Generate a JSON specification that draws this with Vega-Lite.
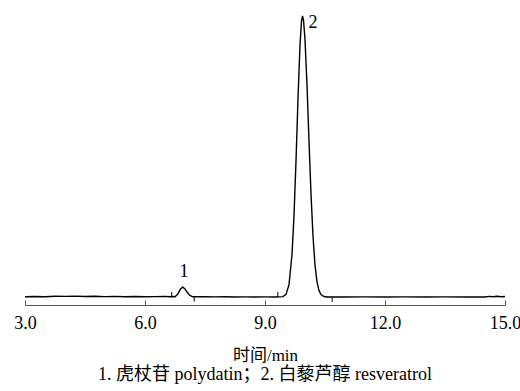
{
  "$schema": "https://vega.github.io/schema/vega-lite/v6.json",
  "width": 480,
  "height": 295,
  "autosize": {"type": "none"},
  "padding": {"left": 25, "top": 10, "right": 15, "bottom": 86},
  "background": "white",
  "config": {"view": {"stroke": null}, "font": "Liberation Serif, Noto Sans CJK SC"},
  "title": {
    "text": "1. 虎杖苷 polydatin；2. 白藜芦醇 resveratrol",
    "orient": "bottom",
    "anchor": "middle",
    "fontSize": 18,
    "fontWeight": "normal",
    "font": "Liberation Serif, Noto Sans CJK SC",
    "color": "black",
    "offset": 3
  },
  "datasets": {
    "trace": [
      {"t": 3.0, "h": 0.3}, {"t": 3.25, "h": 0.5}, {"t": 3.5, "h": 0.2}, {"t": 3.75, "h": 0.8},
      {"t": 4.0, "h": 0.6}, {"t": 4.25, "h": 0.9}, {"t": 4.5, "h": 0.5}, {"t": 4.75, "h": 0.7},
      {"t": 5.0, "h": 0.4}, {"t": 5.25, "h": 0.6}, {"t": 5.5, "h": 0.3}, {"t": 5.75, "h": 0.5},
      {"t": 6.0, "h": 0.2}, {"t": 6.25, "h": 0.4}, {"t": 6.5, "h": 0.6}, {"t": 6.6, "h": 0.3},
      {"t": 6.7, "h": 0.5}, {"t": 6.75, "h": 0.3},
      {"t": 6.82, "h": 3}, {"t": 6.88, "h": 7.5}, {"t": 6.94, "h": 10}, {"t": 7.0, "h": 8},
      {"t": 7.06, "h": 4.5}, {"t": 7.12, "h": 1.5}, {"t": 7.2, "h": 0.2},
      {"t": 7.5, "h": 0.3}, {"t": 7.75, "h": 0.1}, {"t": 8.0, "h": 0.2}, {"t": 8.25, "h": 0},
      {"t": 8.5, "h": 0.1}, {"t": 8.75, "h": 0}, {"t": 9.0, "h": 0.1}, {"t": 9.25, "h": 0},
      {"t": 9.45, "h": 0.4}, {"t": 9.525, "h": 2.6}, {"t": 9.6, "h": 12.3}, {"t": 9.675, "h": 42.4},
      {"t": 9.725, "h": 81.4}, {"t": 9.775, "h": 136}, {"t": 9.825, "h": 198.6}, {"t": 9.875, "h": 252},
      {"t": 9.9125, "h": 276}, {"t": 9.9375, "h": 281}, {"t": 9.9625, "h": 277}, {"t": 10.0, "h": 257.6},
      {"t": 10.05, "h": 212}, {"t": 10.1, "h": 156}, {"t": 10.15, "h": 103}, {"t": 10.2, "h": 60.8},
      {"t": 10.25, "h": 32}, {"t": 10.3, "h": 15.2}, {"t": 10.35, "h": 6.4}, {"t": 10.4, "h": 2.4},
      {"t": 10.475, "h": 0.5}, {"t": 10.55, "h": 0}, {"t": 10.75, "h": 0.1}, {"t": 11.0, "h": 0},
      {"t": 11.5, "h": 0.1}, {"t": 12.0, "h": 0}, {"t": 12.5, "h": 0.1}, {"t": 13.0, "h": 0},
      {"t": 13.5, "h": 0.1}, {"t": 14.0, "h": 0}, {"t": 14.5, "h": 0}, {"t": 14.6, "h": 0.6},
      {"t": 14.7, "h": 0.2}, {"t": 14.8, "h": 0.7}, {"t": 14.9, "h": 0.3}, {"t": 15.0, "h": 0.5}
    ],
    "markers": [
      {"t": 6.667, "h": 0, "h2": 5},
      {"t": 7.23, "h": 0, "h2": -4.5},
      {"t": 9.32, "h": 0, "h2": 5},
      {"t": 10.68, "h": 0, "h2": -5}
    ],
    "peaks": [
      {"t": 6.975, "h": 25, "label": "1"},
      {"t": 10.2, "h": 274, "label": "2"}
    ]
  },
  "layer": [
    {
      "data": {"name": "trace"},
      "mark": {"type": "line", "color": "black", "strokeWidth": 1.4, "clip": false},
      "encoding": {
        "x": {
          "field": "t",
          "type": "quantitative",
          "scale": {"domain": [3, 15], "nice": false, "zero": false},
          "axis": {
            "values": [3, 6, 9, 12, 15],
            "format": ".1f",
            "grid": false,
            "tickSize": -5,
            "labelPadding": 14,
            "labelFlush": false,
            "labelOverlap": false,
            "domainColor": "#555555",
            "tickColor": "#555555",
            "labelColor": "black",
            "labelFontSize": 18,
            "labelFont": "Liberation Serif",
            "title": "时间/min",
            "titleFontSize": 17,
            "titleFontWeight": "normal",
            "titleColor": "black",
            "titleFont": "Liberation Serif, Noto Sans CJK SC",
            "titlePadding": 15
          }
        },
        "y": {
          "field": "h",
          "type": "quantitative",
          "scale": {"domain": [-8, 287], "nice": false, "zero": false},
          "axis": null
        }
      }
    },
    {
      "data": {"name": "markers"},
      "mark": {"type": "rule", "color": "black", "strokeWidth": 1},
      "encoding": {
        "x": {"field": "t", "type": "quantitative"},
        "y": {"field": "h", "type": "quantitative"},
        "y2": {"field": "h2"}
      }
    },
    {
      "data": {"name": "peaks"},
      "mark": {"type": "text", "fontSize": 18, "font": "Liberation Serif", "color": "black", "align": "center", "baseline": "middle"},
      "encoding": {
        "x": {"field": "t", "type": "quantitative"},
        "y": {"field": "h", "type": "quantitative"},
        "text": {"field": "label"}
      }
    }
  ]
}
